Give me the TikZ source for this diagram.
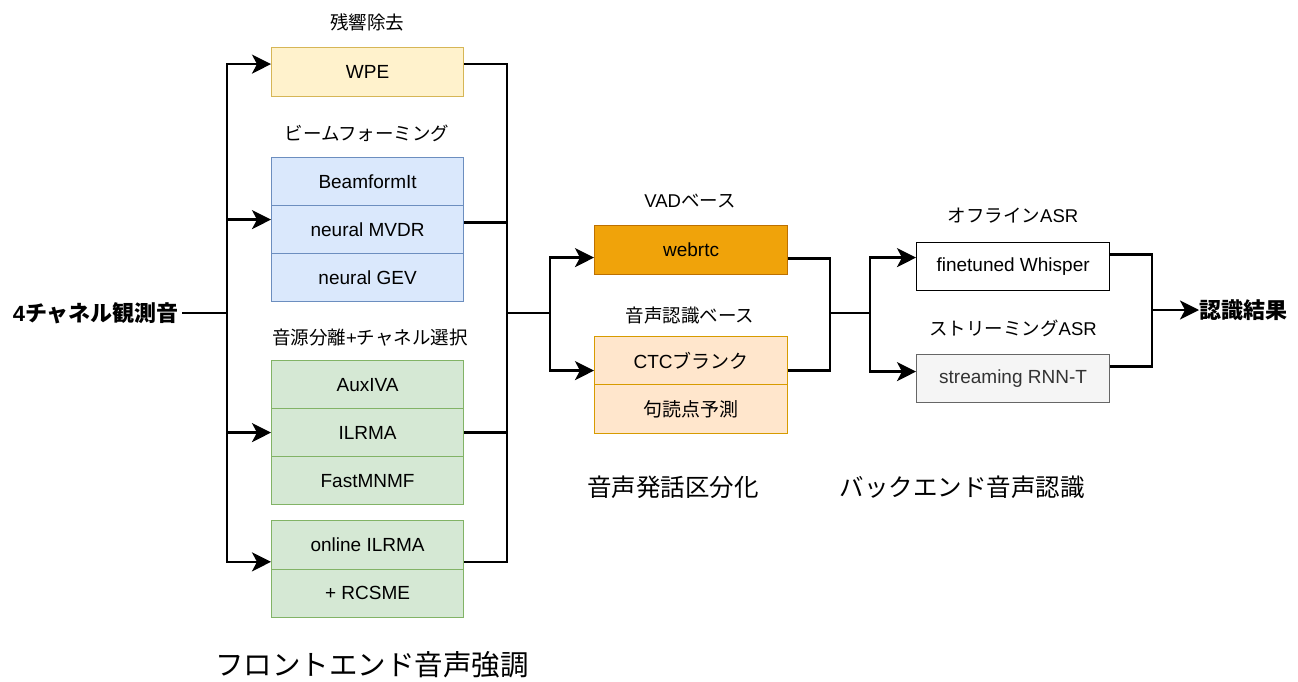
\documentclass[tikz,border=0pt]{standalone}
\usepackage{fontspec}
\setmainfont{Liberation Sans}
\newfontfamily\jp{Noto Sans CJK JP}
\usetikzlibrary{arrows.meta,calc}
\definecolor{yfill}{HTML}{FFF2CC}\definecolor{ydraw}{HTML}{D6B656}
\definecolor{bfill}{HTML}{DAE8FC}\definecolor{bdraw}{HTML}{6C8EBF}
\definecolor{gfill}{HTML}{D5E8D4}\definecolor{gdraw}{HTML}{82B366}
\definecolor{ofill}{HTML}{F0A30A}\definecolor{odraw}{HTML}{BD7000}
\definecolor{pfill}{HTML}{FFE6CC}\definecolor{pdraw}{HTML}{D79B00}
\definecolor{sfill}{HTML}{F5F5F5}\definecolor{sdraw}{HTML}{666666}
\definecolor{stext}{HTML}{333333}
\newcommand{\lat}[1]{{\rmfamily #1}}
\begin{document}
\begin{tikzpicture}[x=1pt,y=-1pt,
  box/.style={draw, line width=1.2pt, minimum width=192pt, minimum height=48pt,
    inner sep=0pt, anchor=north west, font=\fontsize{19}{22}\selectfont},
  ybox/.style={box, fill=yfill, draw=ydraw},
  bbox/.style={box, fill=bfill, draw=bdraw},
  gbox/.style={box, fill=gfill, draw=gdraw},
  obox/.style={box, fill=ofill, draw=odraw},
  pbox/.style={box, fill=pfill, draw=pdraw},
  wbox/.style={box, fill=white, draw=black},
  sbox/.style={box, fill=sfill, draw=sdraw, text=stext},
  lab/.style={font=\jp\fontsize{18.5}{22}\selectfont, inner sep=0pt},
  biglab/.style={font=\jp\fontsize{24.5}{28}\selectfont, inner sep=0pt},
  hugelab/.style={font=\jp\fontsize{28.5}{32}\selectfont, inner sep=0pt},
  iolab/.style={font=\jp\bfseries\fontsize{22}{26}\selectfont, inner sep=0pt},
  ln/.style={draw=black, line width=2.5pt},
  arr/.style={ln, -{Stealth[length=19pt,width=19pt,inset=5pt]}}
]
\useasboundingbox (0,0) rectangle (1298,682);

% front-end boxes
\node[lab] (l1) at (367,22) {残響除去};
\node[ybox, minimum height=49pt] (wpe) at (271,47) {WPE};
\node[lab] (l2) at (367,133) {ビームフォーミング};
\node[bbox] (bf1) at (271,157) {BeamformIt};
\node[bbox] (bf2) at (271,205) {neural MVDR};
\node[bbox] (bf3) at (271,253) {neural GEV};
\node[lab] (l3) at (370,338) {音源分離\lat{+}チャネル選択};
\node[gbox] (ss1) at (271,360) {AuxIVA};
\node[gbox] (ss2) at (271,408) {ILRMA};
\node[gbox] (ss3) at (271,456) {FastMNMF};
\node[gbox, minimum height=48.5pt] (ol1) at (271,520) {online ILRMA};
\node[gbox, minimum height=48.5pt] (ol2) at (271,568.5) {+ RCSME};
\node[hugelab] (t1) at (372,665) {フロントエンド音声強調};

% VAD
\node[lab] (l4) at (690,201) {\lat{VAD}ベース};
\node[obox, minimum width=193pt, minimum height=49pt] (webrtc) at (594,225) {webrtc};
\node[lab] (l5) at (690,315) {音声認識ベース};
\node[pbox, minimum width=193pt] (ctc1) at (594,336) {CTC{\jp ブランク}};
\node[pbox, minimum width=193pt, minimum height=49pt] (ctc2) at (594,384) {\jp 句読点予測};
\node[biglab] (t2) at (673,487) {音声発話区分化};

% back-end
\node[lab] (l6) at (1013,216) {オフライン\lat{ASR}};
\node[wbox, minimum width=193pt] (whisper) at (916,242) {finetuned Whisper};
\node[lab] (l7) at (1013,328) {ストリーミング\lat{ASR}};
\node[sbox, minimum width=193pt] (rnnt) at (916,354) {streaming RNN-T};
\node[biglab] (t3) at (962,487) {バックエンド音声認識};

% input / output
\node[iolab, anchor=east] (inp) at (179,313) {\lat{4}チャネル観測音};
\node[iolab, anchor=west] (out) at (1199,310) {認識結果};

% connectors
\coordinate (s1) at (227,313);
\coordinate (j1) at (507,313);
\coordinate (s2) at (550,313);
\coordinate (j2) at (830,313);
\coordinate (s3) at (870,313);
\coordinate (j3) at (1152,310);

\draw[ln] ([xshift=3pt]inp.east) -- (s1);
\draw[arr] (s1) |- ($(wpe.west)+(0,-8)$);
\draw[arr] (s1) |- ($(bf2.west)+(0,-10)$);
\draw[arr] (s1) |- (ss2.west);
\draw[arr] (s1) |- ($(ol1.west)+(0,17)$);

\draw[ln] ($(wpe.east)+(0,-8)$) -| (j1);
\draw[ln] ($(bf2.east)+(0,-7)$) -| (j1);
\draw[ln] (ss2.east) -| (j1);
\draw[ln] ($(ol1.east)+(0,17)$) -| (j1);
\draw[ln] (j1) -- (s2);

\draw[arr] (s2) |- ($(webrtc.west)+(0,7.5)$);
\draw[arr] (s2) |- ($(ctc1.west)+(0,10)$);
\draw[ln] ($(webrtc.east)+(0,8.5)$) -| (j2);
\draw[ln] ($(ctc1.east)+(0,10)$) -| (j2);
\draw[ln] (j2) -- (s3);

\draw[arr] (s3) |- ($(whisper.west)+(0,-9)$);
\draw[arr] (s3) |- ($(rnnt.west)+(0,-7)$);
\draw[ln] ($(whisper.east)+(0,-12)$) -| (j3);
\draw[ln] ($(rnnt.east)+(0,-12)$) -| (j3);
\draw[arr] (j3) -- (out.west);
\end{tikzpicture}
\end{document}
